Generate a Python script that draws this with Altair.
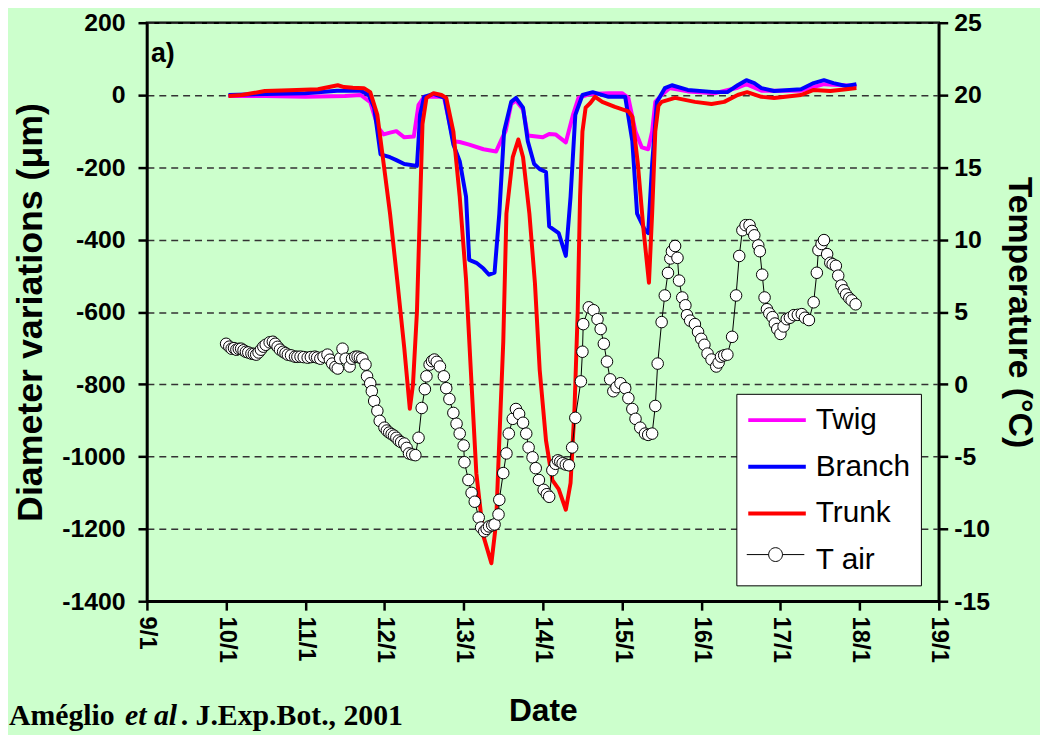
import altair as alt
import pandas as pd

# ---------------- data ----------------
series_names = ["Twig", "Branch", "Trunk", "T air"]
series_colors = ["#FF00FF", "#0000FF", "#FF0000", "rgba(0,0,0,0)"]

trunk_day = [10.03, 10.2, 10.49, 10.8, 11.16, 11.41, 11.49, 11.6, 11.74, 11.82, 11.91, 11.99,
             12.07, 12.16, 12.25, 12.32, 12.36, 12.41, 12.45, 12.48, 12.53, 12.62, 12.72, 12.78,
             12.87, 12.95, 13.03, 13.09, 13.16, 13.25, 13.35, 13.41, 13.45, 13.50, 13.54, 13.62,
             13.69, 13.75, 13.83, 13.90, 13.96, 14.04, 14.12, 14.20, 14.29, 14.35, 14.40, 14.44,
             14.47, 14.50, 14.54, 14.60, 14.66, 14.75, 14.91, 15.08, 15.13, 15.20, 15.27, 15.34,
             15.38, 15.42, 15.46, 15.50, 15.67, 15.92, 16.13, 16.29, 16.46, 16.58, 16.76, 16.92,
             17.26, 17.42, 17.63, 17.83, 17.96]
trunk_val = [-3, 0, 11, 13, 16, 27, 22, 20, 19, 8, -55, -191,
             -328, -510, -700, -868, -800, -600, -300, -80, -8, 5, 0, -8,
             -101, -281, -510, -760, -1046, -1220, -1295, -1182, -956, -683, -328, -172,
             -123, -172, -328, -520, -760, -956, -1065, -1090, -1147, -1073, -866, -600,
             -280, -101, -35, -22, -5, -19, -33, -45, -60, -191, -370, -519,
             -328, -100, -30, -19, -8, -19, -25, -19, 0, 8, -5, -8,
             0, 14, 11, 16, 19]

branch_day = [10.03, 10.5, 11.0, 11.4, 11.7, 11.8, 11.87, 11.95, 12.07, 12.15, 12.25, 12.41,
              12.45, 12.50, 12.62, 12.76, 12.87, 12.95, 13.03, 13.07, 13.16, 13.25, 13.32, 13.39,
              13.45, 13.51, 13.60, 13.66, 13.75, 13.81, 13.89, 13.96, 14.04, 14.08, 14.20, 14.29,
              14.35, 14.41, 14.50, 14.63, 14.83, 15.04, 15.13, 15.19, 15.29, 15.33, 15.38, 15.44,
              15.54, 15.63, 15.83, 16.17, 16.33, 16.46, 16.57, 16.67, 16.76, 16.92, 17.26, 17.42,
              17.55, 17.67, 17.83, 17.96]
branch_val = [0, 3, 5, 12, 12, 0, -35, -164, -172, -180, -191, -196,
              -55, -5, 3, -8, -137, -183, -281, -456, -464, -480, -497, -491,
              -328, -101, -19, -8, -35, -128, -191, -205, -213, -363, -382, -445,
              -281, -55, 0, 8, -5, -5, -128, -328, -374, -382, -191, -19,
              19, 27, 14, 8, 8, 27, 41, 33, 19, 11, 16, 33,
              41, 33, 25, 30]

twig_day = [10.03, 10.5, 11.0, 11.5, 11.7, 11.82, 11.92, 11.99, 12.07, 12.15, 12.25, 12.37,
            12.43, 12.50, 12.75, 12.87, 12.95, 13.07, 13.25, 13.41, 13.49, 13.53, 13.60, 13.66,
            13.75, 13.81, 14.0, 14.08, 14.16, 14.29, 14.38, 14.45, 14.60, 14.83, 15.0, 15.08,
            15.17, 15.25, 15.33, 15.38, 15.42, 15.50, 15.60, 15.83, 16.17, 16.46, 16.57, 16.76,
            17.26, 17.55, 17.96]
twig_val = [-3, -3, -5, -3, 0, -20, -90, -109, -104, -100, -117, -115,
            -27, -5, -5, -128, -130, -137, -150, -156, -117, -100, -25, -15,
            -40, -112, -117, -108, -109, -131, -55, -8, 3, 5, 5, -8,
            -101, -145, -150, -101, -19, 0, 19, 10, 5, 20, 30, 12,
            12, 30, 25]

tair_day = [10.00, 10.04, 10.07, 10.10, 10.13, 10.16, 10.19, 10.22, 10.25, 10.28, 10.32, 10.35,
            10.38, 10.41, 10.44, 10.47, 10.50, 10.55, 10.59, 10.62, 10.65, 10.68, 10.72, 10.75,
            10.78, 10.82, 10.87, 10.90, 10.94, 10.98, 11.03, 11.07, 11.12, 11.15, 11.19, 11.23,
            11.28, 11.31, 11.34, 11.38, 11.41, 11.44, 11.47, 11.51, 11.56, 11.59, 11.63, 11.66,
            11.69, 11.72, 11.76, 11.78, 11.82, 11.84, 11.87, 11.91, 11.94, 12.00, 12.03, 12.06,
            12.09, 12.12, 12.15, 12.18, 12.21, 12.25, 12.28, 12.31, 12.35, 12.39, 12.43, 12.47,
            12.51, 12.53, 12.57, 12.60, 12.63, 12.66, 12.70, 12.75, 12.78, 12.82, 12.87, 12.91,
            12.95, 13.00, 13.01, 13.06, 13.10, 13.14, 13.19, 13.22, 13.26, 13.29, 13.32, 13.36,
            13.39, 13.44, 13.45, 13.50, 13.54, 13.57, 13.62, 13.66, 13.70, 13.75, 13.79, 13.82,
            13.87, 13.91, 13.95, 14.01, 14.05, 14.08, 14.12, 14.16, 14.19, 14.22, 14.25, 14.29,
            14.33, 14.37, 14.41, 14.48, 14.50, 14.51, 14.58, 14.64, 14.69, 14.73, 14.77, 14.81,
            14.85, 14.89, 14.93, 14.98, 15.04, 15.08, 15.13, 15.17, 15.23, 15.29, 15.33, 15.38,
            15.42, 15.45, 15.50, 15.54, 15.58, 15.61, 15.63, 15.67, 15.70, 15.72, 15.76, 15.80,
            15.82, 15.86, 15.92, 15.96, 16.00, 16.04, 16.08, 16.13, 16.19, 16.22, 16.25, 16.29,
            16.33, 16.39, 16.44, 16.48, 16.52, 16.56, 16.61, 16.64, 16.67, 16.72, 16.74, 16.77,
            16.80, 16.83, 16.86, 16.90, 16.93, 16.96, 17.00, 17.04, 17.08, 17.12, 17.17, 17.22,
            17.27, 17.31, 17.36, 17.42, 17.46, 17.48, 17.52, 17.55, 17.59, 17.63, 17.66, 17.70,
            17.73, 17.77, 17.80, 17.83, 17.87, 17.90, 17.95]
tair_val = [2.8, 2.6, 2.46, 2.5, 2.39, 2.45, 2.46, 2.35, 2.25, 2.2, 2.12, 2.1,
            2.05, 2.2, 2.39, 2.6, 2.73, 2.9, 2.94, 2.8, 2.59, 2.4, 2.25, 2.15,
            2.05, 2.0, 1.91, 1.9, 1.91, 1.88, 1.84, 1.88, 1.91, 1.85, 1.77, 1.9,
            2.05, 1.7, 1.43, 1.2, 1.09, 1.8, 2.46, 1.77, 1.23, 1.77, 1.9, 1.91,
            1.85, 1.77, 1.36, 0.55, 0.07, -0.48, -1.16, -1.84, -2.53, -3.0, -3.2, -3.34,
            -3.45, -3.55, -3.7, -3.89, -4.0, -4.1, -4.4, -4.78, -4.85, -4.9, -3.7, -1.64,
            -0.34, 0.55, 1.36, 1.6, 1.71, 1.55, 1.23, 0.55, -0.27, -1.02, -1.98, -2.73,
            -3.41, -4.23, -5.39, -6.62, -7.51, -8.12, -9.22, -9.9, -10.17, -10.0, -9.83, -9.75,
            -9.69, -9.0, -7.99, -6.14, -4.78, -3.41, -2.39, -1.71, -2.05, -2.66, -3.41, -4.37,
            -5.05, -5.8, -6.62, -7.3, -7.6, -7.78, -5.94, -5.5, -5.26, -5.35, -5.46, -5.55,
            -5.6, -4.37, -2.32, 0.2, 2.25, 4.16, 5.32, 5.12, 4.5, 3.82, 2.8, 1.57,
            0.34, -0.48, -0.2, 0.07, -0.27, -0.96, -1.71, -2.39, -3.0, -3.41, -3.5, -3.41,
            -1.5, 1.43, 4.3, 6.14, 7.7, 8.7, 9.2, 9.56, 8.74, 7.17, 6.0, 5.46,
            4.78, 4.4, 4.16, 3.62, 3.14, 2.73, 2.12, 1.71, 1.23, 1.5, 1.91, 2.0,
            2.05, 3.28, 6.14, 8.87, 10.65, 11.0, 11.0, 10.6, 10.3, 9.6, 9.2, 7.58,
            6.0, 5.19, 4.9, 4.64, 4.2, 3.82, 3.48, 4.0, 4.5, 4.6, 4.78, 4.8,
            4.85, 4.6, 4.44, 5.67, 7.71, 9.28, 9.7, 9.97, 9.0, 8.4, 8.3, 8.19,
            7.51, 6.83, 6.5, 6.21, 5.95, 5.8, 5.53]

x_ticks = list(range(9, 20))
left_ticks = list(range(-1400, 201, 200))
right_ticks = list(range(-15, 26, 5))

# ---------------- styling ----------------
GREEN = "#CCFFCC"
SANS = "Liberation Sans"
SERIF = "Liberation Serif"
LINE_W = 4

diam_df = pd.concat([
    pd.DataFrame({"day": twig_day, "value": twig_val, "series": "Twig"}),
    pd.DataFrame({"day": branch_day, "value": branch_val, "series": "Branch"}),
    pd.DataFrame({"day": trunk_day, "value": trunk_val, "series": "Trunk"}),
], ignore_index=True)
temp_df = pd.DataFrame({"day": tair_day, "temp": tair_val, "series": "T air"})

x_enc = alt.X(
    "day:Q",
    scale=alt.Scale(domain=[9, 19], nice=False, zero=False),
    axis=alt.Axis(
        values=x_ticks, labelExpr="datum.value + '/1'", labelAngle=90,
        title="Date", labelFontSize=24, labelFontWeight="bold", labelPadding=6,
        titleFontSize=32, titlePadding=33, grid=False,
    ),
)

# line-shaped legend symbol whose left end sits at the entry's left edge
PATH_LINE = "M-1,0H3"
PATH_TAIR = "M-1,0H0.52M1.48,0H3M1.48,0A0.48,0.48,0,1,1,0.52,0A0.48,0.48,0,1,1,1.48,0Z"
SYM_SIZE = 841
ROW_PAD = 15
LEG_Y = 374

color_enc = alt.Color(
    "series:N",
    scale=alt.Scale(domain=series_names, range=series_colors),
    legend=alt.Legend(
        orient="none", legendX=594, legendY=LEG_Y, title=None,
        symbolType=PATH_LINE, symbolSize=SYM_SIZE, symbolStrokeWidth=LINE_W,
        labelFontSize=30, labelFont=SANS, labelColor="black", labelOffset=37,
        fillColor="white", strokeColor="black", padding=10, rowPadding=ROW_PAD,
    ),
)

y_left = alt.Y(
    "value:Q",
    scale=alt.Scale(domain=[-1400, 200], nice=False, zero=False),
    axis=alt.Axis(
        values=left_ticks, labelExpr="'' + datum.value", title="Diameter variations (μm)",
        titlePadding=12, labelFontSize=25, labelFontWeight="bold", labelPadding=13,
        titleFontSize=36, grid=True, gridDash=[7, 5], gridColor="#333333",
        gridWidth=1.5,
    ),
)

y_right = alt.Y(
    "temp:Q",
    scale=alt.Scale(domain=[-15, 25], nice=False, zero=False),
    axis=alt.Axis(
        orient="right", values=right_ticks, labelExpr="'' + datum.value",
        title="Temperature (°C)", titlePadding=12, labelFontSize=25,
        labelFontWeight="bold", labelPadding=6, titleFontSize=34, grid=False,
    ),
)

line_layers = []
for name in ["Twig", "Branch", "Trunk"]:
    line_layers.append(
        alt.Chart(diam_df)
        .transform_filter(alt.datum.series == name)
        .mark_line(strokeWidth=LINE_W, strokeJoin="round")
        .encode(x=x_enc, y=y_left, color=color_enc)
    )

label_df = pd.DataFrame({"t": ["a)"]})
panel_label = alt.Chart(label_df).mark_text(
    align="left", baseline="alphabetic", font=SANS, fontSize=27, fontWeight="bold", color="black"
).encode(text="t:N", x=alt.value(4), y=alt.value(40))

cite_parts = ["Améglio ", "et al", ". J.Exp.Bot., 2001"]
cite_x = [-139, -22, 34]
cite_style = ["normal", "italic", "normal"]
cite_layers = []
for txt, xx, st in zip(cite_parts, cite_x, cite_style):
    cite_layers.append(
        alt.Chart(pd.DataFrame({"t": [txt]})).mark_text(
            align="left", baseline="alphabetic", font=SERIF, fontSize=30,
            fontWeight="bold", fontStyle=st, color="black",
        ).encode(text="t:N", x=alt.value(xx), y=alt.value(708))
    )

left = alt.layer(*line_layers, panel_label, *cite_layers)

# 4th legend row: same vertical position as the 4th entry of the color legend
tair_legend_y = LEG_Y + 10 + 3 * (30 + ROW_PAD) + 2

t_line = alt.Chart(temp_df).mark_line(color="black", strokeWidth=1).encode(x=x_enc, y=y_right)
t_pts = alt.Chart(temp_df).mark_point(
    filled=True, stroke="black", strokeWidth=1, size=135, opacity=1, shape="circle"
).encode(
    x=x_enc, y=y_right,
    fill=alt.Fill(
        "series:N",
        scale=alt.Scale(domain=["T air"], range=["white"]),
        legend=alt.Legend(
            orient="none", legendX=604, legendY=tair_legend_y, title=None,
            symbolType=PATH_TAIR, symbolSize=SYM_SIZE, symbolStrokeWidth=1,
            symbolStrokeColor="black", labelExpr="''", labelFontSize=1, padding=0,
        ),
    ),
)
right = alt.layer(t_line, t_pts)

chart = (
    alt.layer(left, right)
    .resolve_scale(y="independent")
    .properties(
        width=798, height=583, background=GREEN,
        autosize=alt.AutoSizeParams(type="none"),
        padding={"left": 140, "top": 12, "right": 102, "bottom": 132},
    )
    .configure_view(fill=GREEN, stroke="black", strokeWidth=2.5)
    .configure_axis(
        labelFont=SANS, titleFont=SANS, labelColor="black", titleColor="black",
        domainColor="black", domainWidth=2.5, tickColor="black", tickWidth=2.5,
        tickSize=9, titleFontWeight="bold",
    )
)

chart.save("out.html", embed_options={"renderer": "svg", "actions": False})
